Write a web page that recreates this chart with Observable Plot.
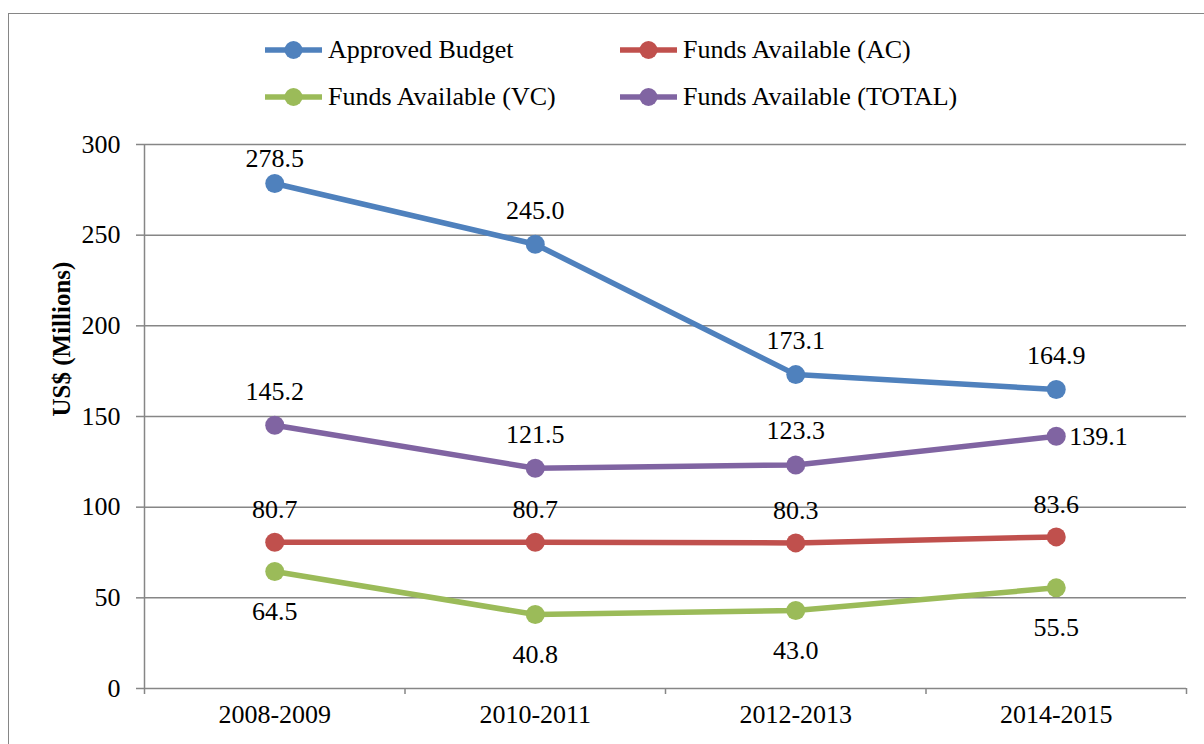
<!DOCTYPE html>
<html>
<head>
<meta charset="utf-8">
<script src="https://cdn.jsdelivr.net/npm/d3@7"></script>
<script src="https://cdn.jsdelivr.net/npm/@observablehq/plot@0.6"></script>
<style>
  html, body { margin: 0; padding: 0; background: #fff; overflow: hidden; }
  body { width: 1204px; height: 744px; position: relative; font-family: 'Liberation Serif', serif; }
  #frame { position: absolute; left: 8px; top: 13px; width: 1220px; height: 800px; border: 1.5px solid #868686; box-sizing: border-box; pointer-events: none; }
  #legend { position: relative; height: 120px; }
  .item { position: absolute; display: flex; align-items: center; font-family: 'Liberation Serif', serif; font-size: 26px; color: #000; white-space: nowrap; height: 30px; }
  .item svg { margin-right: 6px; }
  #chart svg text { font-family: 'Liberation Serif', serif; }
</style>
</head>
<body>
<div id="frame"></div>
<div id="legend"></div>
<div id="chart"></div>
<script>
// ---- data ----
const categories = ["2008-2009", "2010-2011", "2012-2013", "2014-2015"];
const seriesNames = ["Approved Budget", "Funds Available (AC)", "Funds Available (VC)", "Funds Available (TOTAL)"];
const seriesColors = ["#4F81BD", "#C0504D", "#9BBB59", "#8064A2"];
const approvedBudget = [278.5, 245.0, 173.1, 164.9];
const fundsAC = [80.7, 80.7, 80.3, 83.6];
const fundsVC = [64.5, 40.8, 43.0, 55.5];
const fundsTotal = [145.2, 121.5, 123.3, 139.1];
const yTicks = [0, 50, 100, 150, 200, 250, 300];
const yTitle = "US$ (Millions)";

// label placement per series (style only)
const labelPlacement = [
  ["top", "above", "above", "above"],
  ["aboveAC", "aboveAC", "aboveAC", "aboveAC"],
  ["below", "below", "below", "below"],
  ["above", "above", "above", "right"]
];

const seriesValues = [approvedBudget, fundsAC, fundsVC, fundsTotal];
const rows = [];
seriesValues.forEach((vals, s) => vals.forEach((v, i) => rows.push({series: seriesNames[s], i, value: v, place: labelPlacement[s][i]})));

// ---- legend ----
const legend = document.getElementById("legend");
const legendPos = [[265, 35], [620, 35], [265, 82], [620, 82]];
seriesNames.forEach((name, s) => {
  const div = document.createElement("div");
  div.className = "item";
  div.style.left = legendPos[s][0] + "px";
  div.style.top = legendPos[s][1] + "px";
  div.innerHTML = `<svg width="57" height="22"><line x1="1" y1="11" x2="56" y2="11" stroke="${seriesColors[s]}" stroke-width="5.5" stroke-linecap="round"/><circle cx="28.5" cy="11" r="9" fill="${seriesColors[s]}"/></svg><span>${name}</span>`;
  legend.appendChild(div);
});

// ---- chart ----
const gray = "#868686";
const font = "'Liberation Serif', serif";
const boundaries = d3.range(-0.5, categories.length, 1);
const labelMarks = [
  ["top", -25, "middle", 0],
  ["above", -34, "middle", 0],
  ["aboveAC", -32, "middle", 0],
  ["below", 40, "middle", 0],
  ["right", 0, "start", 13]
].map(([p, dy, anchor, dx]) => Plot.text(rows.filter(d => d.place === p), {
  x: "i", y: "value", text: d => d.value.toFixed(1), dy, dx, textAnchor: anchor,
  fill: "#000", fontSize: 26
}));

const chart = Plot.plot({
  width: 1204,
  height: 624,
  marginTop: 24,
  marginBottom: 56,
  marginLeft: 144,
  marginRight: 18,
  style: {fontFamily: font, fontSize: "26px", background: "transparent", color: "#000"},
  x: {type: "linear", domain: [-0.5, categories.length - 0.5]},
  y: {domain: [0, 300]},
  color: {domain: seriesNames, range: seriesColors},
  marks: [
    Plot.gridY(yTicks, {stroke: gray, strokeOpacity: 1, strokeWidth: 1.5}),
    Plot.ruleX([-0.5], {stroke: gray, strokeWidth: 1.5}),
    Plot.axisY(yTicks, {tickSize: 8, tickPadding: 16, stroke: gray, strokeWidth: 1.5, fontSize: 26, fill: "#000", label: null}),
    Plot.axisX(boundaries, {tickSize: 6, stroke: gray, strokeWidth: 1.5, tickFormat: () => "", label: null}),
    Plot.axisX(d3.range(categories.length), {tickSize: 0, tickPadding: 16, tickFormat: i => categories[i], fontSize: 26, fill: "#000", label: null}),
    Plot.text([yTitle], {frameAnchor: "left", rotate: -90, dx: -83, fontWeight: "bold", fontSize: 25, fill: "#000"}),
    Plot.line(rows, {x: "i", y: "value", z: "series", stroke: "series", strokeWidth: 5.5}),
    Plot.dot(rows, {x: "i", y: "value", fill: "series", r: 9.5}),
    ...labelMarks
  ]
});
document.getElementById("chart").appendChild(chart);
</script>
</body>
</html>
